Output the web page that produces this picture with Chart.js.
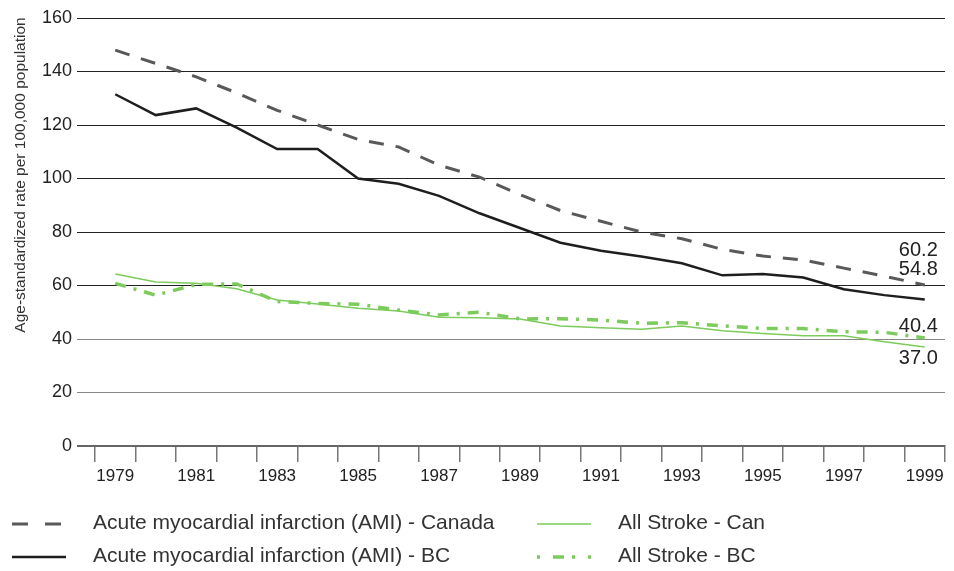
<!DOCTYPE html>
<html>
<head>
<meta charset="utf-8">
<script src="https://cdn.jsdelivr.net/npm/chart.js@4"></script>
<style>
  body { margin: 0; background: #fff; }
  #wrap { width: 954px; height: 571px; }
</style>
</head>
<body>
<div id="wrap"><canvas id="chart" width="954" height="571"></canvas></div>
<script>
const years = ['1979', '1980', '1981', '1982', '1983', '1984', '1985', '1986', '1987', '1988', '1989',
    '1990', '1991', '1992', '1993', '1994', '1995', '1996', '1997', '1998', '1999'];
const amiCanada = [148, 143, 138, 132, 125.5, 120, 114.6, 111.8, 105, 100.5, 94,
    88, 84, 80, 77.5, 73.5, 71, 69.5, 66.5, 63.5, 60.2];
const amiBC = [131.5, 123.7, 126.2, 119, 111, 111, 100, 98, 93.5, 87, 81.5,
    76, 73, 70.8, 68.3, 63.8, 64.3, 63, 58.6, 56.4, 54.8];
const strokeCan = [64.3, 61.3, 60.8, 58.8, 54.6, 53.1, 51.5, 50.5, 48.1, 47.9, 47.5,
    44.9, 44.2, 43.6, 44.9, 43.1, 42.1, 41.2, 41.2, 39, 37.0];
const strokeBC = [60.8, 56.4, 60.4, 60.6, 54, 53.3, 53, 50.8, 49, 50, 47.5,
    47.6, 47.1, 45.9, 46.1, 44.9, 43.9, 43.9, 42.7, 42.5, 40.4];
const yTicks = [0, 20, 40, 60, 80, 100, 120, 140, 160];

const FONT = "'Liberation Sans', Arial, sans-serif";
const GREEN = '#7ccb5c';

// end-of-line value labels, offsets from last point
const endLabels = [
    { ds: 0, dy: -34 },
    { ds: 1, dy: -30 },
    { ds: 3, dy: -11 },
    { ds: 2, dy: 11 }
];

const extras = {
    id: 'extras',
    afterDraw(chart) {
        const ctx = chart.ctx;
        const x = chart.scales.x, y = chart.scales.y;
        ctx.save();
        ctx.fillStyle = '#222';
        ctx.font = '20px ' + FONT;
        ctx.textAlign = 'right';
        ctx.textBaseline = 'middle';
        const last = years.length - 1;
        endLabels.forEach(l => {
            const d = chart.data.datasets[l.ds].data[last];
            ctx.fillText(d.toFixed(1), x.getPixelForValue(last) + 13, y.getPixelForValue(d) + l.dy);
        });

        // y axis title
        ctx.save();
        ctx.translate(21, 175);
        ctx.rotate(-Math.PI / 2);
        ctx.textAlign = 'center';
        ctx.font = '15.5px ' + FONT;
        ctx.fillStyle = '#333';
        ctx.fillText('Age-standardized rate per 100,000 population', 0, 0);
        ctx.restore();

        // legend, two columns
        const slots = [
            { ds: 0, x: 12, y: 524 },
            { ds: 1, x: 12, y: 557 },
            { ds: 2, x: 537, y: 524 },
            { ds: 3, x: 537, y: 557 }
        ];
        ctx.font = '21px ' + FONT;
        ctx.textAlign = 'left';
        ctx.fillStyle = '#333';
        slots.forEach(s => {
            const ds = chart.data.datasets[s.ds];
            ctx.save();
            ctx.strokeStyle = ds.borderColor;
            ctx.lineWidth = ds.borderWidth;
            ctx.setLineDash(ds.legendDash || []);
            ctx.beginPath();
            ctx.moveTo(s.x, s.y);
            ctx.lineTo(s.x + 54, s.y);
            ctx.stroke();
            ctx.restore();
            ctx.fillText(ds.label, s.x + (s.x < 100 ? 81 : 81), s.y - 1);
        });
        ctx.restore();
    }
};

new Chart(document.getElementById('chart'), {
    type: 'line',
    data: {
        labels: years,
        datasets: [
            {
                label: 'Acute myocardial infarction (AMI) - Canada',
                data: amiCanada,
                borderColor: '#595959',
                borderWidth: 3,
                borderDash: [15, 12],
                legendDash: [16, 17]
            },
            {
                label: 'Acute myocardial infarction (AMI) - BC',
                data: amiBC,
                borderColor: '#1e1e1e',
                borderWidth: 2.5
            },
            {
                label: 'All Stroke - Can',
                data: strokeCan,
                borderColor: GREEN,
                borderWidth: 1.5
            },
            {
                label: 'All Stroke - BC',
                data: strokeBC,
                borderColor: GREEN,
                borderWidth: 3.5,
                borderDash: [11, 8, 3, 8],
                legendDash: [3, 13, 11, 8]
            }
        ]
    },
    options: {
        responsive: false,
        animation: false,
        layout: { padding: { top: 18, right: 9, left: 0, bottom: 0 } },
        elements: { point: { radius: 0 }, line: { tension: 0, fill: false } },
        plugins: { legend: { display: false }, tooltip: { enabled: false } },
        scales: {
            x: {
                offset: true,
                afterFit: s => { s.height = 125; },
                grid: {
                    offset: true,
                    drawOnChartArea: false,
                    drawTicks: true,
                    tickLength: 16,
                    color: '#777',
                    lineWidth: 1.5
                },
                border: { display: true, color: '#666', width: 2 },
                ticks: {
                    autoSkip: false,
                    maxRotation: 0,
                    padding: 4,
                    color: '#222',
                    font: { family: FONT, size: 17 },
                    callback: (v, i) => (i % 2 === 0 ? years[i] : '')
                }
            },
            y: {
                min: yTicks[0],
                max: yTicks[yTicks.length - 1],
                afterFit: s => { s.width = 95; },
                afterBuildTicks: s => { s.ticks = yTicks.map(v => ({ value: v })); },
                border: { display: false },
                grid: {
                    tickLength: 18,
                    color: c => (c.tick && (c.tick.value === 20 || c.tick.value === 40)) ? '#888' : (c.tick && c.tick.value === 0 ? '#666' : '#222'),
                    lineWidth: c => (c.tick && c.tick.value === 0 ? 2 : 1)
                },
                ticks: {
                    padding: 5,
                    color: '#222',
                    font: { family: FONT, size: 18 }
                }
            }
        }
    },
    plugins: [extras]
});
</script>
</body>
</html>
